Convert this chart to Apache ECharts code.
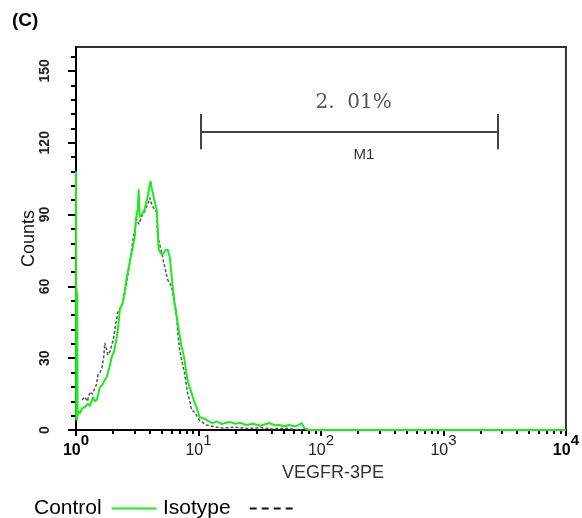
<!DOCTYPE html>
<html>
<head>
    <meta charset="utf-8" />
    <title>VEGFR-3 PE histogram</title>
    <script src="https://cdn.jsdelivr.net/npm/echarts@6/dist/echarts.min.js"></script>
    <style>
        body { margin: 0; background: #ffffff; }
        #chart { width: 582px; height: 518px; }
    </style>
</head>
<body>
<div id="chart"></div>
<script type="text/javascript">
    // Control (green) : [fluorescence, counts]
    var controlData = [
        [1, 108], [1.004, 4], [1.008, 59], [1.012, 5], [1.016, 58], [1.02, 4], [1.024, 57], [1.03, 6], [1.05, 8],
        [1.078, 7], [1.12, 9], [1.184, 9.6], [1.25, 11], [1.3, 10], [1.375, 13.8], [1.42, 12],
        [1.48, 12.6], [1.52, 15], [1.567, 18], [1.65, 19], [1.72, 21], [1.787, 22.2], [1.87, 26],
        [1.96, 30.6], [2.05, 33], [2.155, 39], [2.22, 44], [2.28, 50.3], [2.41, 53.2], [2.5, 58],
        [2.6, 64], [2.72, 69], [2.85, 74.2], [2.93, 77], [3.02, 81], [3.08, 88], [3.19, 92],
        [3.25, 100.6], [3.31, 89], [3.45, 90], [3.64, 92.2], [3.75, 95], [3.85, 97.6], [3.95, 101],
        [4.07, 104], [4.15, 101], [4.23, 99.3], [4.4, 95], [4.56, 92.2], [4.65, 84], [4.73, 75.4],
        [4.9, 74], [5.1, 73.3], [5.35, 75], [5.6, 75.4], [5.81, 72.5], [6.0, 66], [6.15, 60],
        [6.38, 53.2], [6.55, 50], [6.75, 44.8], [7.0, 40], [7.28, 34.8], [7.5, 32], [7.69, 29.3],
        [7.9, 25], [8.14, 20.9], [8.45, 18], [8.77, 15.5], [9.2, 12], [9.63, 9.6], [10.2, 5.4],
        [10.8, 5], [11.6, 4.2], [12.3, 3.5], [13.0, 2.9], [14, 3.6], [15.5, 2.5], [17.9, 3.4],
        [20, 2.6], [22, 3.0], [24.6, 2.1], [28, 2.6], [32, 1.8], [37.8, 2.9], [42, 2.0],
        [45.6, 2.1], [50, 1.6], [55, 2.1], [62, 1.5], [70, 2.9], [73, 0.8], [75.5, 0.5],
        [80, 0], [10000, 0]
    ];
    // Isotype (dashed grey)
    var isotypeData = [
        [1.119, 12.6], [1.184, 13.8], [1.24, 12], [1.3, 15.9], [1.36, 15], [1.427, 17.6],
        [1.47, 19], [1.51, 23], [1.57, 24], [1.626, 26], [1.68, 30], [1.72, 36.4], [1.77, 34],
        [1.82, 31.4], [1.9, 33], [1.96, 33.5], [2.02, 38], [2.075, 41.9], [2.19, 49], [2.3, 51],
        [2.41, 53.2], [2.5, 57], [2.6, 62], [2.75, 70], [2.91, 78.8], [3.02, 84], [3.13, 88],
        [3.25, 86], [3.44, 89.2], [3.6, 91], [3.78, 93.4], [3.9, 95], [4.0, 97], [4.1, 95],
        [4.23, 93.4], [4.4, 92], [4.56, 91], [4.64, 81], [4.8, 78], [5.0, 74.2], [5.29, 68.3],
        [5.6, 62.8], [6.03, 60], [6.3, 54], [6.62, 47.3], [6.8, 40], [7.01, 33.5], [7.3, 29],
        [7.69, 23.9], [8.14, 15.5], [8.45, 12.6], [8.77, 8.4], [9.28, 7.5], [10.2, 4],
        [11.6, 2.1], [13, 1.5], [15.7, 0.8], [20, 1.2], [25, 0.6], [32, 1.0], [40, 0.4],
        [50, 0.8], [60, 0.3], [70, 0], [10000, 0]
    ];

    // axis ticks
    var yMajorTicks = [0, 30, 60, 90, 120, 150];
    var yMinorTicks = [6, 12, 18, 24, 36, 42, 48, 54, 66, 72, 78, 84, 96, 102, 108, 114,
        126, 132, 138, 144, 156];
    var xMinorTicks = [2, 3, 4, 5, 6, 7, 8, 9, 20, 30, 40, 50, 60, 70, 80, 90,
        200, 300, 400, 500, 600, 700, 800, 900, 2000, 3000, 4000, 5000, 6000, 7000, 8000, 9000];

    // M1 gate marker
    var m1Range = [10.5, 2800];
    var m1Level = 124.4;
    var m1Cap = [117.3, 132];
    var m1PctPos = [185, 136.6];
    var m1NamePos = [224, 114.8];
    var m1Pct = '2.  01%';
    var m1Name = 'M1';

    var myChart = echarts.init(document.getElementById('chart'));
    var option = {
        animation: false,
        title: {
            text: '(C)',
            left: 7,
            top: 6,
            textStyle: { fontSize: 19, fontWeight: 'bold', fontFamily: 'Liberation Sans', color: '#000' }
        },
        legend: [
            {
                left: 29, top: 493, align: 'right', itemWidth: 45, itemHeight: 14,
                textStyle: { fontSize: 21, fontFamily: 'Liberation Sans', color: '#000', padding: [0, 5, 0, 0] },
                data: [{
                    name: 'Control', icon: 'inherit',
                    itemStyle: { opacity: 0 },
                    lineStyle: { color: '#1aed1a', width: 2, type: 'solid', opacity: 1 }
                }]
            },
            {
                left: 158, top: 493, align: 'right', itemWidth: 45, itemHeight: 14,
                textStyle: { fontSize: 21, fontFamily: 'Liberation Sans', color: '#000', padding: [0, 14, 0, 0] },
                data: [{
                    name: 'Isotype', icon: 'inherit',
                    itemStyle: { opacity: 0 },
                    lineStyle: { color: '#111', width: 2, type: [7, 5], opacity: 1 }
                }]
            }
        ],
        grid: {
            left: 76, right: 14, top: 47, bottom: 88,
            show: true, borderColor: '#333', borderWidth: 2, backgroundColor: 'transparent'
        },
        xAxis: [
            {
                type: 'log', logBase: 10, min: 1, max: 10000, position: 'bottom',
                name: 'VEGFR-3PE', nameLocation: 'middle', nameGap: 21,
                nameTextStyle: { fontSize: 18, fontFamily: 'Liberation Sans', color: '#333', padding: [0, 0, 0, 24] },
                axisLine: { lineStyle: { color: '#000', width: 2 } },
                axisTick: { length: 6, lineStyle: { color: '#000', width: 2 } },
                splitLine: { show: false },
                axisLabel: {
                    margin: 3,
                    formatter: function (v) {
                        var e = Math.round(Math.log10(v));
                        var s = (e === 0 || e === 4) ? 'b' : 'n';
                        return '{' + s + '|10}{' + s + 's|' + e + '}';
                    },
                    rich: {
                        b: { fontSize: 16, fontWeight: 'bold', fontFamily: 'Liberation Sans', color: '#000', lineHeight: 26, verticalAlign: 'bottom' },
                        bs: { fontSize: 15, fontWeight: 'bold', fontFamily: 'Liberation Sans', color: '#000', lineHeight: 15, verticalAlign: 'top' },
                        n: { fontSize: 16, fontFamily: 'Liberation Sans', color: '#222', lineHeight: 26, verticalAlign: 'bottom' },
                        ns: { fontSize: 15, fontFamily: 'Liberation Sans', color: '#222', lineHeight: 15, verticalAlign: 'top' }
                    }
                }
            },
            {
                type: 'log', logBase: 10, min: 1, max: 10000, position: 'bottom',
                axisLine: { show: false },
                axisLabel: { show: false },
                splitLine: { show: false },
                axisTick: { length: 4, customValues: xMinorTicks, lineStyle: { color: '#000', width: 2 } }
            }
        ],
        yAxis: [
            {
                type: 'value', min: 0, max: 160, interval: 30, position: 'left',
                name: 'Counts', nameLocation: 'middle', nameGap: 38, nameMoveOverlap: false,
                nameTextStyle: { fontSize: 18, fontFamily: 'Liberation Sans', color: '#111' },
                axisLine: { show: true, lineStyle: { color: '#000', width: 2 } },
                axisTick: { show: true, length: 8, customValues: yMajorTicks, lineStyle: { color: '#000', width: 2 } },
                splitLine: { show: false },
                axisLabel: {
                    rotate: 90, margin: 24, customValues: yMajorTicks,
                    fontSize: 14, fontWeight: 'bold', fontFamily: 'Liberation Sans', color: '#222'
                }
            },
            {
                type: 'value', min: 0, max: 160, position: 'left',
                axisLine: { show: false },
                axisLabel: { show: false },
                splitLine: { show: false },
                axisTick: { show: true, length: 5, customValues: yMinorTicks, lineStyle: { color: '#000', width: 2 } }
            }
        ],
        series: [
            {
                name: 'Isotype', type: 'line', data: isotypeData,
                symbol: 'none', showSymbol: false,
                lineStyle: { color: '#555', width: 1.5, type: [3, 2] },
                itemStyle: { color: '#555' }
            },
            {
                name: 'Control', type: 'line', data: controlData,
                symbol: 'none', showSymbol: false,
                lineStyle: { color: '#1aed1a', width: 2 },
                itemStyle: { color: '#1aed1a' }
            },
            {
                name: 'M1', type: 'line', data: [],
                markLine: {
                    silent: true, symbol: ['none', 'none'],
                    label: { show: false },
                    lineStyle: { color: '#444', width: 2, type: 'solid' },
                    data: [
                        [{ coord: [m1Range[0], m1Level] }, { coord: [m1Range[1], m1Level] }],
                        [{ coord: [m1Range[0], m1Cap[0]] }, { coord: [m1Range[0], m1Cap[1]] }],
                        [{ coord: [m1Range[1], m1Cap[0]] }, { coord: [m1Range[1], m1Cap[1]] }]
                    ]
                },
                markPoint: {
                    silent: true, symbol: 'circle', symbolSize: 0,
                    data: [
                        {
                            coord: m1PctPos,
                            label: { show: true, position: 'inside', formatter: m1Pct, fontSize: 20, fontFamily: 'DejaVu Serif', color: '#555' }
                        },
                        {
                            coord: m1NamePos,
                            label: { show: true, position: 'inside', formatter: m1Name, fontSize: 15, fontFamily: 'Liberation Sans', color: '#333' }
                        }
                    ]
                }
            }
        ]
    };
    myChart.setOption(option);
</script>
</body>
</html>
